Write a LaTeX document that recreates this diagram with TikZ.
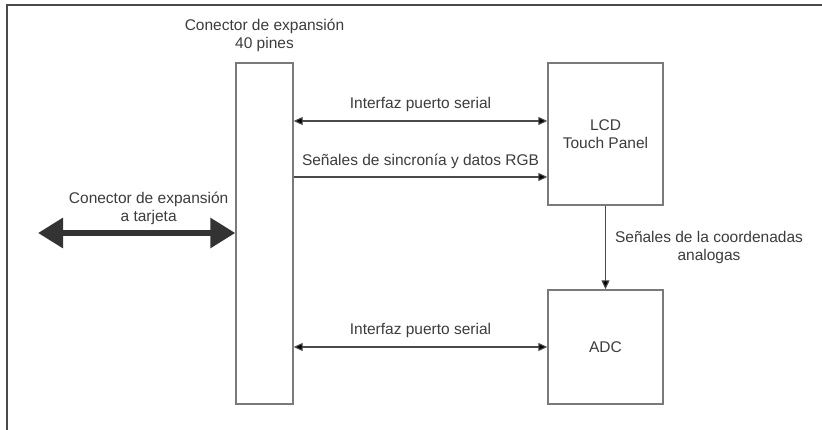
\documentclass[tikz,border=0pt]{standalone}
\usepackage{fontspec}
\setmainfont{Liberation Sans}
\usetikzlibrary{arrows.meta,positioning,calc}
\definecolor{txtgray}{HTML}{3C3C3C}
\definecolor{linegray}{HTML}{4A4A4A}
\definecolor{boxgray}{HTML}{7A7A7A}
\begin{document}
\begin{tikzpicture}[x=1pt,y=-1pt,>={Triangle[length=9pt,width=8pt]},
  font=\fontsize{15.5}{18}\selectfont, text=txtgray,
  block/.style={rectangle,draw=boxgray,line width=1.4pt,fill=white,align=center,inner sep=0pt},
  label-text/.style={align=center,inner sep=0pt},
  link/.style={draw=linegray,line width=1.1pt},
  bigarrow/.style={draw=black!80,line width=6pt,
    {Triangle[length=25pt,width=29pt]}-{Triangle[length=25pt,width=29pt]}}]
  \useasboundingbox (0,0) rectangle (822,430);
  % marco
  \draw[linegray,line width=1.2pt] (7,430) -- (7,5) -- (822,5);

    \node[block,minimum width=57pt,minimum height=341pt] (Conector) at (264.5,233.5) {};
    \node[block,minimum width=115pt,minimum height=142pt] (LCD) at (605.5,134) {LCD\\Touch Panel};
    \node[block,minimum width=115pt,minimum height=114pt] (ADC) at (605.5,347) {ADC};
    \node[label-text] (ConectorLabel) [above=10pt of Conector] {Conector de expansi\'on\\40 pines};

    \coordinate (serialA) at (0,121);
    \coordinate (rgb) at (0,177);
    \coordinate (serialB) at (0,347);
    \coordinate (tarjeta) at (38,233);

    \path[link] (Conector.east |- serialA) edge [<->] node[label-text,above=9pt] {Interfaz puerto serial} (LCD.west |- serialA)
     (Conector.east |- rgb) edge [->] node[label-text,above=8pt] {Se\~nales de sincron\'ia y datos RGB} (LCD.west |- rgb)
     (Conector.east |- serialB) edge [<->] node[label-text,above=9pt] {Interfaz puerto serial} (ADC.west |- serialB)
     (LCD) edge [->] node[label-text,right=9pt] {Se\~nales de la coordenadas\\analogas} (ADC);

    \draw[bigarrow] (tarjeta) -- (Conector.west |- tarjeta)
      node[label-text,midway,above=5pt,xshift=12pt] {Conector de expansi\'on\\a tarjeta};

  \end{tikzpicture}
\end{document}
